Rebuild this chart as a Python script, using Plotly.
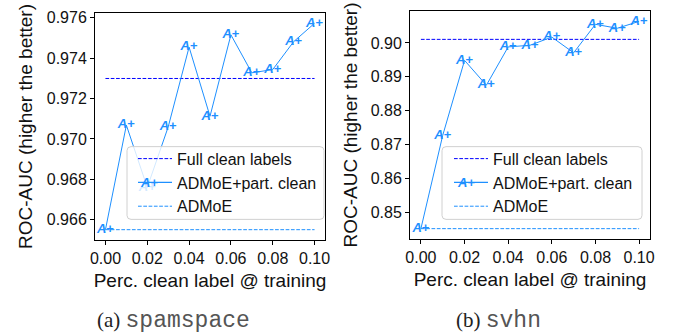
import plotly.graph_objects as go

# ---- data ----
perc = [0.00, 0.01, 0.02, 0.03, 0.04, 0.05, 0.06, 0.07, 0.08, 0.09, 0.10]
spam_part = [0.96551, 0.97068, 0.96760, 0.97059, 0.97454, 0.97112, 0.97515,
             0.97327, 0.97343, 0.97481, 0.97572]
spam_full = 0.97299
spam_admoe = 0.96551
svhn_part = [0.84515, 0.87271, 0.89487, 0.88752, 0.89884, 0.89933, 0.90174,
             0.89710, 0.90552, 0.90435, 0.90639]
svhn_full = 0.90107
svhn_admoe = 0.84515
x_ticks = [0.00, 0.02, 0.04, 0.06, 0.08, 0.10]
spam_yticks = [0.966, 0.968, 0.970, 0.972, 0.974, 0.976]
svhn_yticks = [0.85, 0.86, 0.87, 0.88, 0.89, 0.90]
captions = [("(a)", "spamspace"), ("(b)", "svhn")]

BLUE = "#1E90FF"
FULL = "#0000FF"
FONT = "Liberation Sans, Arial, sans-serif"
MARK = "<b><i>A</i>+</b>"

W, H = 681, 334
ML, MR, MT, MB = 95, 31, 7, 94
PW = W - ML - MR
PH = H - MT - MB
XR = [-0.005, 0.105]


def px(x):
    return (x - ML) / PW


def py(y):
    return (H - MB - y) / PH


def yrange(vals):
    lo, hi = min(vals), max(vals)
    pad = (hi - lo) * 0.05
    return [lo - pad, hi + pad]


# subplot pixel boxes (left, right, top, bottom)
boxes = [(95, 325, 9, 240), (410, 650, 7, 239)]
yranges = [yrange(spam_part), yrange(svhn_part)]
glyph_pos = [(149, 181), (466, 181)]

fig = go.Figure()

panels = [
    dict(part=spam_part, full=spam_full, admoe=spam_admoe, xa="x", ya="y",
         legend="legend"),
    dict(part=svhn_part, full=svhn_full, admoe=svhn_admoe, xa="x2", ya="y2",
         legend="legend2"),
]

for i, p in enumerate(panels):
    fig.add_trace(go.Scatter(
        x=[perc[0], perc[-1]], y=[p["full"], p["full"]], mode="lines",
        line=dict(color=FULL, width=1, dash="3.7px,1.6px"),
        name="Full clean labels", xaxis=p["xa"], yaxis=p["ya"],
        legend=p["legend"], hoverinfo="skip"))
    fig.add_trace(go.Scatter(
        x=perc, y=p["part"], mode="lines+text",
        text=[MARK] * len(perc), textposition="middle center",
        textfont=dict(color=BLUE, size=13, family=FONT),
        line=dict(color=BLUE, width=1), cliponaxis=False,
        name="ADMoE+part. clean", showlegend=False,
        xaxis=p["xa"], yaxis=p["ya"], legend=p["legend"]))
    fig.add_trace(go.Scatter(
        x=[None], y=[None], mode="lines",
        line=dict(color=BLUE, width=1.3),
        name="ADMoE+part. clean", xaxis=p["xa"], yaxis=p["ya"],
        legend=p["legend"]))
    fig.add_trace(go.Scatter(
        x=[perc[0], perc[-1]], y=[p["admoe"], p["admoe"]], mode="lines",
        line=dict(color=BLUE, width=1, dash="3.7px,1.6px"),
        name="ADMoE", xaxis=p["xa"], yaxis=p["ya"],
        legend=p["legend"], hoverinfo="skip"))

axis_common = dict(
    showline=True, linecolor="black", linewidth=1, mirror=True,
    ticks="outside", ticklen=4, tickcolor="black", tickwidth=1,
    showgrid=False, zeroline=False,
    tickfont=dict(family=FONT, size=16, color="#111"),
)

xdom1 = [px(boxes[0][0]), px(boxes[0][1])]
xdom2 = [px(boxes[1][0]), px(boxes[1][1])]
ydom1 = [py(boxes[0][3]), py(boxes[0][2])]
ydom2 = [py(boxes[1][3]), py(boxes[1][2])]

legend_common = dict(
    yanchor="top", xanchor="left", bgcolor="rgba(0,0,0,0)",
    borderwidth=0, font=dict(family=FONT, size=16, color="#111"),
    itemwidth=34, tracegroupgap=0)

fig.update_layout(
    width=W, height=H,
    margin=dict(l=ML, r=MR, t=MT, b=MB),
    paper_bgcolor="white", plot_bgcolor="white",
    font=dict(family=FONT, size=16, color="#111"),
    xaxis=dict(domain=xdom1, range=XR, tickvals=x_ticks,
               tickformat=".2f", anchor="y",
               title=dict(text="Perc. clean label @ training", standoff=7),
               **axis_common),
    yaxis=dict(domain=ydom1, range=yranges[0], tickvals=spam_yticks,
               tickformat=".3f", anchor="x",
               title=dict(text="ROC-AUC (higher the better)", standoff=9),
               **axis_common),
    xaxis2=dict(domain=xdom2, range=XR, tickvals=x_ticks,
                tickformat=".2f", anchor="y2",
                title=dict(text="Perc. clean label @ training", standoff=7),
                **axis_common),
    yaxis2=dict(domain=ydom2, range=yranges[1], tickvals=svhn_yticks,
                tickformat=".2f", anchor="x2",
                title=dict(text="ROC-AUC (higher the better)", standoff=8),
                **axis_common),
    legend=dict(x=px(133), y=py(140), **legend_common),
    legend2=dict(x=px(449), y=py(140), **legend_common),
    showlegend=True,
)


def rounded_rect(x0, y0, x1, y1, r=4):
    X0, X1 = px(x0), px(x1)
    Y0, Y1 = py(y0), py(y1)   # Y0 top, Y1 bottom (paper)
    rx, ry = r / PW, r / PH
    return (f"M {X0+rx} {Y0} L {X1-rx} {Y0} Q {X1} {Y0} {X1} {Y0-ry} "
            f"L {X1} {Y1+ry} Q {X1} {Y1} {X1-rx} {Y1} "
            f"L {X0+rx} {Y1} Q {X0} {Y1} {X0} {Y1+ry} "
            f"L {X0} {Y0-ry} Q {X0} {Y0} {X0+rx} {Y0} Z")


# legend frames (semi-transparent, above the data like matplotlib's legend)
for (x0, x1) in [(127, 324), (442, 642)]:
    fig.add_shape(type="path", path=rounded_rect(x0, 145, x1, 219),
                  xref="paper", yref="paper", layer="above",
                  fillcolor="rgba(255,255,255,0.8)",
                  line=dict(color="#d0d0d0", width=1))

# "A+" glyph on the legend sample line
for gx, gy in glyph_pos:
    fig.add_annotation(
        x=px(gx), y=py(gy), xref="paper", yref="paper",
        xanchor="center", yanchor="middle", showarrow=False,
        text=MARK, font=dict(color=BLUE, size=13, family=FONT))

# captions
for (lab, name), cx in zip(captions, [173, 498]):
    fig.add_annotation(
        x=px(cx), y=py(322), xref="paper", yref="paper",
        xanchor="center", yanchor="middle",
        text=(f'<span style="font-family:Liberation Serif,serif">{lab}</span> '
              f'<span style="font-family:Liberation Mono,monospace;font-size:23px;color:#555">{name}</span>'),
        showarrow=False,
        font=dict(family="Liberation Serif, serif", size=21, color="#222"))

fig.write_html("out.html", config={"displayModeBar": False},
               post_script="document.body.style.margin='0';")
